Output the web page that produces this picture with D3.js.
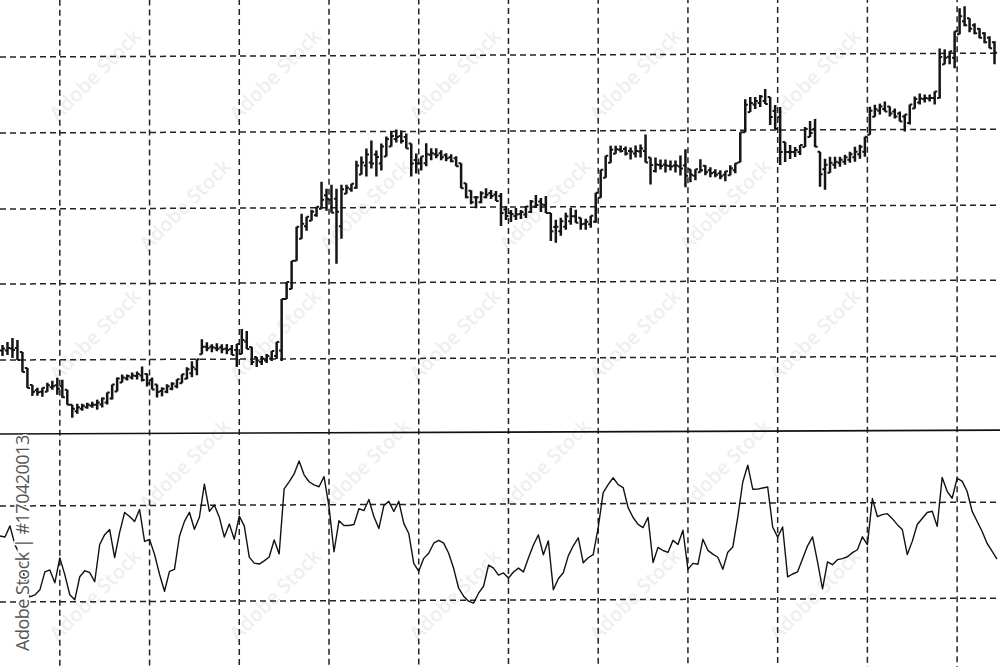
<!DOCTYPE html>
<html>
<head>
<meta charset="utf-8">
<script src="https://cdn.jsdelivr.net/npm/d3@7"></script>
<style>
  html, body { margin: 0; padding: 0; background: #fff; }
  svg { display: block; }
</style>
</head>
<body>
<div id="chart"></div>
<script>
var width = 1000;
var height = 667;

// price bars, one every step (high / low)
var barHigh = [55,58,62,60,48,32,15,12,12,17,19,22,20,10,-5,-4,-4,-3,-2,0,
  2,7,15,22,25,25,27,28,33,26,22,15,12,15,17,20,25,32,38,40,
  60,57,55,56,55,55,54,55,70,68,52,42,43,45,48,57,100,117,138,172,
  185,182,189,192,217,210,214,210,214,214,215,238,242,250,258,248,255,262,267,269,
  268,265,255,245,242,255,250,250,248,245,244,242,235,215,208,202,207,210,208,207,
  205,192,188,190,188,192,198,203,200,202,185,178,180,185,190,188,180,179,182,205,
  228,242,252,252,252,251,250,252,253,263,240,240,238,238,237,237,242,248,228,228,
  238,232,230,228,227,226,232,234,265,298,300,300,302,308,300,292,290,255,252,250,
  252,270,276,278,245,238,240,240,240,242,245,250,252,260,290,292,293,295,290,288,
  285,282,292,300,303,302,302,305,348,347,345,365,388,390,378,373,368,364,360,355];
var barLow = [44,45,42,40,28,12,4,4,3,8,10,5,2,-5,-18,-14,-11,-9,-8,-10,
  -8,-5,0,8,17,19,20,20,18,13,10,2,3,6,9,11,16,20,22,24,
  45,48,47,48,46,45,44,32,45,50,34,32,34,36,38,40,38,100,110,138,
  160,168,178,182,190,188,186,135,160,205,207,210,224,222,230,222,228,242,252,256,
  255,250,222,225,228,232,238,240,238,237,236,232,210,200,194,190,195,200,199,197,
  172,178,176,178,179,180,185,190,186,185,157,155,162,168,173,175,168,168,170,175,
  200,220,235,244,245,242,238,240,240,235,213,225,228,225,227,225,222,210,215,217,
  225,222,220,220,218,216,222,224,235,265,285,288,290,293,272,268,232,235,238,240,
  242,250,260,250,210,207,224,228,230,232,234,235,238,240,262,280,282,285,280,278,
  275,265,272,288,292,294,295,292,298,332,332,328,362,370,364,362,358,353,348,332];

// oscillator, one value per step
var oscValues = [57.5,57.1,61.7,53.8,49.6,39.2,32.1,32.9,35,42.5,43.3,37.9,48.3,41.3,32.9,30.8,40.4,42.9,42.1,38.3,
  53.8,57.9,60,48.3,58.8,67.1,65.4,63.3,68.3,55,55.8,49.6,41.3,34.2,42.5,43.3,57.1,63.3,67.1,60,
  65,78.8,67.5,70,65,56.7,62.1,55.8,65.4,61.3,48.3,45.8,45.4,46.7,48.3,55.4,49.6,76.7,79.6,82.9,
  88.3,82.5,79.6,78.3,77.5,81.7,69.2,50.4,63.3,61.3,61.3,61.7,68.3,67.5,72.1,65,60,69.6,71.3,67.1,
  71.3,62.1,57.9,45.4,42.1,47.5,49.6,53.8,55,53.8,49.6,43.3,35,31.7,29.6,28.8,32.9,35.8,44.6,43.3,
  40.4,41.3,39.2,41.7,43.3,41.7,47.5,52.9,57.1,48.8,54.6,34.2,38.8,41.3,48.3,52.5,55.8,45.4,47.5,48.8,
  60,74.6,77.9,80.8,77.9,76.7,68.3,64.2,61.3,60,64.2,45.4,51.7,50.4,49.6,54.6,52.9,58.8,42.5,45,
  44.6,55,50.4,48.8,47.5,42.5,49.6,51.7,64.2,78.8,85.8,75.8,75.8,76.3,76.7,60,55.8,60,39.2,40.4,
  41.3,46.7,52.1,55.8,45.4,34.2,45.4,44.2,46.3,46.7,47.5,49.2,50.4,55.8,52.5,71.7,64.2,65,65.4,63.3,
  60.8,58.8,48.3,53.8,60.8,63.3,65.8,66.3,60,80.4,74.6,71.7,80,78.8,74.6,66.3,62.1,57.9,52.9,49.6,
  46.3];

// grid levels
var timeTicks = [12, 30, 48, 66, 84, 102, 120, 138, 156, 174, 192];
var priceTicks = [40, 116, 191, 267, 343];
var oscTicks = [30, 70];

var xScale = d3.scaleLinear().domain([0, 200]).range([0, 997]);
var yPrice = d3.scaleLinear().domain([-35, 400]).range([435, 0]);
var yOsc = d3.scaleLinear().domain([0, 100]).range([674, 434]);

var svg = d3.select('#chart').append('svg')
    .attr("width", width)
    .attr("height", height)
    .style("font-family", "'Open Sans', 'DejaVu Sans', sans-serif");

svg.append("rect").attr("width", width).attr("height", height).attr("fill", "#fff");

// faint stock watermark tiles, kept inside the frame
var wm = svg.append("g").attr("fill", "#efefef").attr("font-size", 20).attr("font-weight", 600);
for (var r = 0; r < 5; r++) {
    for (var c = 0; c < 5; c++) {
        var wx = 95 + c * 180 + (r % 2) * 90, wy = 75 + r * 130;
        if (wx > 900) continue;
        wm.append("text")
            .attr("transform", "translate(" + wx + "," + wy + ") rotate(-45)")
            .attr("text-anchor", "middle")
            .attr("dy", "0.35em")
            .text("Adobe Stock");
    }
}

// whole picture is a bit tilted
var g = svg.append("g").attr("transform", "skewY(-0.22)");

// dashed grid
var grid = g.append("g")
    .attr("stroke", "#222")
    .attr("stroke-width", 1.5)
    .attr("stroke-dasharray", "6,4");

grid.selectAll("line.vx").data(timeTicks).enter().append("line")
    .attr("class", "vx")
    .attr("x1", function(d) { return xScale(d); })
    .attr("x2", function(d) { return xScale(d); })
    .attr("y1", 0).attr("y2", height + 5);

grid.selectAll("line.hp").data(priceTicks).enter().append("line")
    .attr("class", "hp")
    .attr("x1", 0).attr("x2", width + 5)
    .attr("y1", function(d) { return yPrice(d); })
    .attr("y2", function(d) { return yPrice(d); });

grid.selectAll("line.ho").data(oscTicks).enter().append("line")
    .attr("class", "ho")
    .attr("x1", 0).attr("x2", width + 5)
    .attr("y1", function(d) { return yOsc(d); })
    .attr("y2", function(d) { return yOsc(d); });

// panel separator
g.append("line")
    .attr("x1", 0).attr("x2", width + 5)
    .attr("y1", yOsc(100)).attr("y2", yOsc(100))
    .attr("stroke", "#111").attr("stroke-width", 1.7);

// price bars
var bars = barHigh.map(function(h, i) { return { i: i, hi: h, lo: barLow[i], mid: (h + barLow[i]) / 2 }; });

function clampTo(v, b) { return Math.max(b.lo, Math.min(b.hi, v)); }

var barG = g.append("g").attr("stroke", "#151515").attr("fill", "none");

barG.selectAll("line.bar").data(bars).enter().append("line")
    .attr("class", "bar")
    .attr("stroke-width", 2.5)
    .attr("x1", function(d) { return xScale(d.i + 0.5); })
    .attr("x2", function(d) { return xScale(d.i + 0.5); })
    .attr("y1", function(d) { return yPrice(d.hi); })
    .attr("y2", function(d) { return yPrice(d.lo); });

// open / close ticks
barG.selectAll("path.tick").data(bars).enter().append("path")
    .attr("class", "tick")
    .attr("stroke-width", 2)
    .attr("d", function(d) {
        var x = xScale(d.i + 0.5);
        var prev = bars[d.i - 1] || d, next = bars[d.i + 1] || d;
        var o = clampTo(prev.mid, d), c = clampTo(next.mid, d);
        return "M" + (x - 2.6) + "," + yPrice(o) + "H" + x + "M" + x + "," + yPrice(c) + "H" + (x + 2.6);
    });

// oscillator line
var oscLine = d3.line()
    .x(function(d, i) { return xScale(i); })
    .y(function(d) { return yOsc(d); });

g.append("path")
    .datum(oscValues)
    .attr("fill", "none")
    .attr("stroke", "#111")
    .attr("stroke-width", 1.4)
    .attr("stroke-linejoin", "round")
    .attr("d", oscLine);

// id stamp on the left
svg.append("text")
    .attr("transform", "translate(29,651) rotate(-90)")
    .attr("font-size", 18)
    .attr("letter-spacing", -0.5)
    .attr("fill", "#555")
    .attr("stroke", "#fff")
    .attr("stroke-width", 3)
    .attr("paint-order", "stroke")
    .text("Adobe Stock | #170420013");
</script>
</body>
</html>
